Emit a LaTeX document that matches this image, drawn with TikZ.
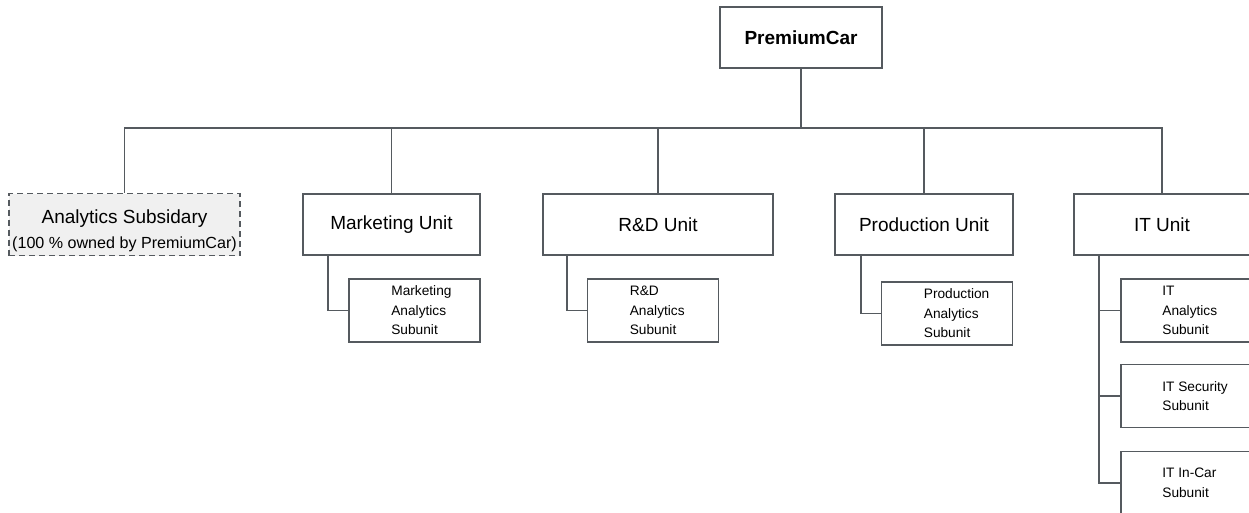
\documentclass[tikz,border=0pt]{standalone}
\usepackage{fontspec}
\setmainfont{Liberation Sans}
\definecolor{linegray}{RGB}{85,90,95}
\definecolor{subfill}{RGB}{240,240,240}
\begin{document}
\begin{tikzpicture}[x=1pt,y=-1pt,
  box/.style={draw=linegray, line width=1.7pt, fill=white, inner sep=0pt},
  unitbox/.style={box, minimum height=61pt, font=\fontsize{19}{23}\selectfont},
  subbox/.style={box, minimum width=131pt, minimum height=63pt},
  subtext/.style={anchor=west, inner sep=0pt, align=left, font=\fontsize{13.7}{19.5}\selectfont},
  link/.style={draw=linegray, line width=1.7pt}]
\useasboundingbox (0,0) rectangle (1249,512);
\clip (0,0) rectangle (1249,512);

% top of the hierarchy
\node[unitbox, minimum width=162pt, font=\bfseries\fontsize{19}{23}\selectfont] (top) at (801,37.5) {PremiumCar};
\coordinate (bus) at (801,128);

% subsidiary and business units
\node[box, dash pattern=on 6pt off 4pt, fill=subfill, minimum width=231pt, minimum height=62pt,
      align=center, font=\fontsize{19}{26}\selectfont]
  (subs) at (124.5,224.5) {\rule{0pt}{25.5pt}Analytics Subsidary\\[-1pt]{\fontsize{16.1}{19}\selectfont (100 \% owned by PremiumCar)}};
\node[unitbox, minimum width=177pt] (mkt) at (391.5,224.5) {Marketing Unit};
\node[unitbox, minimum width=230pt] (rnd) at (658,224.5) {R\&D Unit};
\node[unitbox, minimum width=178pt] (prod) at (924,224.5) {Production Unit};
\node[unitbox, minimum width=176pt] (it) at (1162,224.5) {IT Unit};

% tree connectors
\draw[link] (top.south) -- (bus);
\draw[link] (subs.north) -- (subs.north |- bus) -- (it.north |- bus) -- (it.north);
\foreach \u in {mkt,rnd,prod} \draw[link] (\u.north) -- (\u.north |- bus);

% analytics subunits
\node[subbox] (mkts) at (414.5,310.5) {};
\node[subtext] at ([xshift=43pt]mkts.west) {Marketing\\Analytics\\Subunit};
\node[subbox] (rnds) at (653,310.5) {};
\node[subtext] at ([xshift=43pt]rnds.west) {R\&D\\Analytics\\Subunit};
\node[subbox] (prods) at (947,313.5) {};
\node[subtext] at ([xshift=43pt]prods.west) {Production\\Analytics\\Subunit};

% IT subunits
\node[subbox] (its1) at (1186.5,310.5) {};
\node[subtext] at ([xshift=42pt]its1.west) {IT\\Analytics\\Subunit};
\node[subbox] (its2) at (1186.5,396) {};
\node[subtext] at ([xshift=42pt]its2.west) {IT Security\\Subunit};
\node[subbox] (its3) at (1186.5,483) {};
\node[subtext] at ([xshift=42pt]its3.west) {IT In-Car\\Subunit};

% unit-to-subunit connectors
\draw[link] ([xshift=26pt]mkt.south west) |- (mkts.west);
\draw[link] ([xshift=25pt]rnd.south west) |- (rnds.west);
\draw[link] ([xshift=27pt]prod.south west) |- (prods.west);
\draw[link] ([xshift=26pt]it.south west) |- (its1.west);
\draw[link] ([xshift=26pt]it.south west) |- (its2.west);
\draw[link] ([xshift=26pt]it.south west) |- (its3.west);
\end{tikzpicture}
\end{document}
